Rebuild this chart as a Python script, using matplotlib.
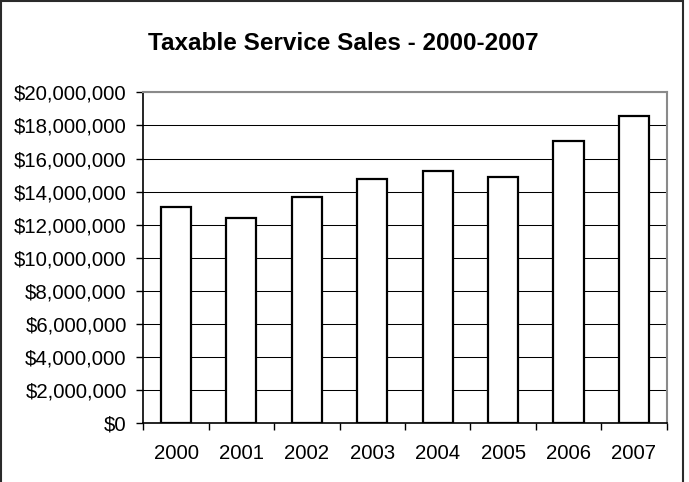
""" taxable service sales bar chart, 2000-2007 """

import numpy as np
from matplotlib import pyplot as plt
from matplotlib.patches import Rectangle
from matplotlib.ticker import FuncFormatter

years = ["2000", "2001", "2002", "2003", "2004", "2005", "2006", "2007"]
sales = [13_090_000, 12_410_000, 13_680_000, 14_750_000, 15_250_000, 14_870_000, 17_030_000, 18_570_000]

plt.rcParams["font.family"] = ["Liberation Sans", "DejaVu Sans"]

fig = plt.figure(figsize=(6.89, 4.82), dpi=100)
ax = fig.add_axes([0.208, 0.1218, 0.7596, 0.6867])

x = np.arange(len(years))
ax.bar(x, sales, width=0.46, color="white", edgecolor="black", linewidth=1.6, zorder=3)

# y axis: dollars, gridlines every $2M
ax.set_ylim(0, 20_000_000)
ax.set_yticks(np.arange(0, 20_000_001, 2_000_000))
ax.yaxis.set_major_formatter(FuncFormatter(lambda v, _: f"${v:,.0f}"))
ax.grid(axis="y", color="black", linewidth=0.75, zorder=0)
ax.set_axisbelow(True)

# x axis: ticks on category boundaries, labels in the middle
ax.set_xlim(-0.5, len(years) - 0.5)
ax.set_xticks(np.arange(-0.5, len(years), 1.0))
ax.set_xticklabels([])
ax.set_xticks(x, minor=True)
ax.set_xticklabels(years, minor=True)
ax.tick_params(axis="x", which="minor", length=0, pad=15, labelsize=14.7)
ax.tick_params(axis="x", which="major", direction="out", length=5, width=1, color="black")
ax.tick_params(axis="y", direction="out", length=5, width=1, pad=7, labelsize=14.7, color="black")

for side in ["left", "bottom"]:
	ax.spines[side].set_color("black")
	ax.spines[side].set_linewidth(1.2)
for side in ["top", "right"]:
	ax.spines[side].set_color("#8a8a8a")
	ax.spines[side].set_linewidth(1.5)

fig.text(0.499, 0.91, "Taxable Service Sales - 2000-2007", ha="center", va="center",
         fontsize=17.5, fontweight="bold")

# outer chart frame (bottom edge falls outside the image)
fig.patches.append(Rectangle((0.001, -0.05), 0.99, 1.047, transform=fig.transFigure,
                             fill=False, edgecolor="#2a2a2a", linewidth=1.5))

fig.savefig("out.png", dpi=100)
